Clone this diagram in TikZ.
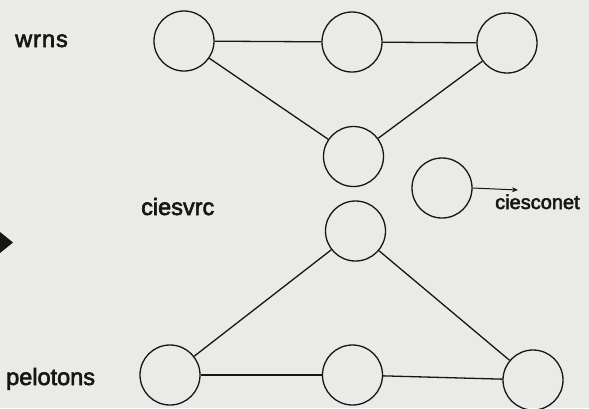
\documentclass[tikz,border=0pt]{standalone}
\usepackage{fontspec}
\setmainfont{Liberation Sans}
\newfontfamily\labelfont{Liberation Sans}[FakeBold=2.6]
\usetikzlibrary{arrows.meta}
\definecolor{paper}{RGB}{234,234,230}
\definecolor{ink}{RGB}{22,22,22}
\tikzset{
  unit/.style={circle, draw=ink, line width=1.3pt, minimum size=60pt, inner sep=0pt},
  link/.style={draw=ink, line width=1.3pt},
  level/.style={anchor=base west, inner sep=0pt, text=ink, font=\labelfont\fontsize{23.5}{25}\selectfont},
}
\begin{document}
\begin{tikzpicture}[x=1pt,y=-1pt]
  % page
  \fill[paper] (0,0) rectangle (589,408);
  \useasboundingbox (0,0) rectangle (589,408);

  % level labels
  \node[level] (lwrns) at (15,47) {w\kern1pt r\kern1pt n\kern1pt s};
  \node[level] (lvrc) at (141,215) {ciesvrc};
  \node[level] (lpel) at (6,385) {pelotons};
  \node[level, font=\labelfont\fontsize{20}{22}\selectfont] (lcon) at (495,209) {ciesconet};

  % units
  \node[unit] (t1) at (184,41) {};
  \node[unit] (t2) at (352,42) {};
  \node[unit] (t3) at (507,43) {};
  \node[unit] (c1) at (353.5,156.5) {};
  \node[unit] (c2) at (442,188) {};
  \node[unit] (c3) at (355.5,231) {};
  \node[unit] (b1) at (170,375) {};
  \node[unit] (b2) at (352.5,375) {};
  \node[unit] (b3) at (533,380) {};

  % links
  \draw[link] (t1) -- (t2);
  \draw[link] (t2) -- (t3);
  \draw[link] (t1) -- (c1);
  \draw[link] (t3) -- (c1);
  \draw[link] (c3) -- (b1);
  \draw[link] (c3) -- (b3);
  \draw[link] (b1) -- (b2);
  \draw[link] (b2) -- (b3);

  % outgoing arrow
  \coordinate (out) at (518,190);
  \draw[link, line width=1pt, -{Stealth[length=6pt,width=5pt]}] (c2.east) -- (out);

  % margin marker
  \fill[ink] (0,232) -- (13,242.5) -- (0,253) -- cycle;
\end{tikzpicture}
\end{document}
